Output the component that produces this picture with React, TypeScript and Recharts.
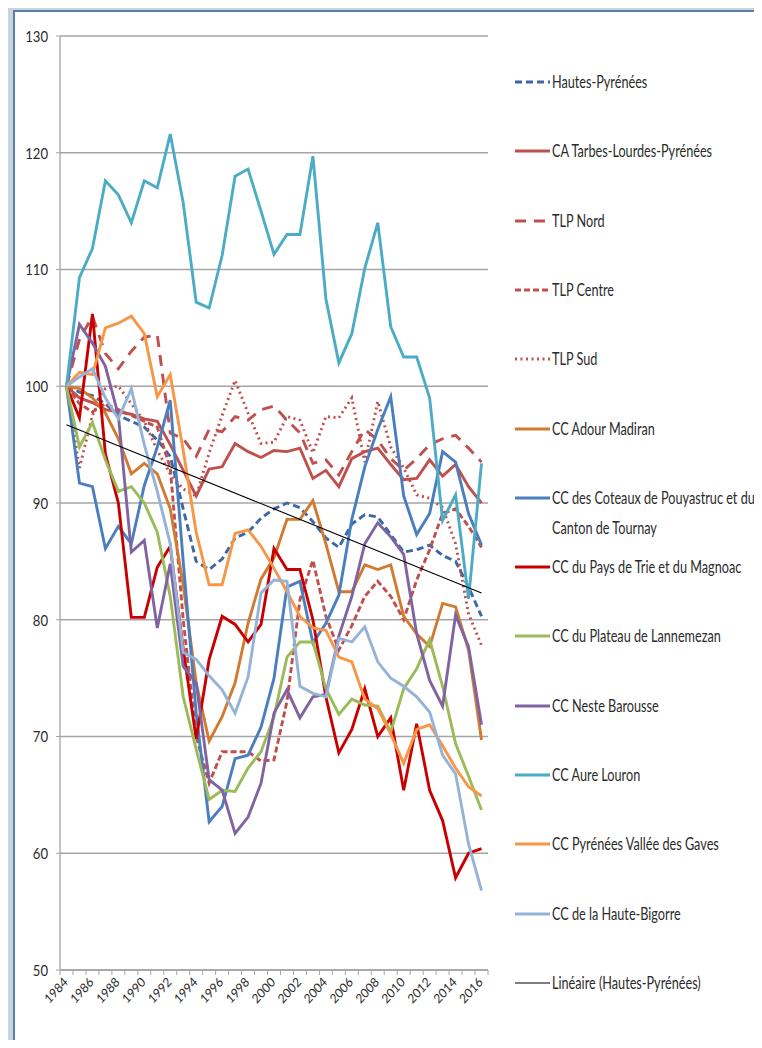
import { CartesianGrid, Line, LineChart, XAxis, YAxis } from 'recharts';

// Indices démographiques base 100 en 1984

const years = [
  1984, 1985, 1986, 1987, 1988, 1989, 1990, 1991, 1992, 1993, 1994, 1995, 1996, 1997, 1998, 1999,
  2000, 2001, 2002, 2003, 2004, 2005, 2006, 2007, 2008, 2009, 2010, 2011, 2012, 2013, 2014, 2015,
  2016,
];

const yTicks = [50, 60, 70, 80, 90, 100, 110, 120, 130];

const hautesPyrenees = [
  100, 99.5, 99.2, 98.5, 97.5, 97.0, 96.5, 95.4, 94.0, 89.5, 85.0, 84.3, 85.2, 87.0, 87.5, 88.7,
  89.5, 90.0, 89.6, 88.4, 87.0, 86.2, 88.2, 89.0, 88.8, 87.3, 85.8, 86.0, 86.4, 85.5, 85.0, 82.8,
  80.3,
];
const caTarbes = [
  100, 99.0, 98.6, 98.0, 97.8, 97.6, 97.2, 97.0, 95.0, 92.8, 90.6, 92.9, 93.1, 95.1, 94.4, 93.9,
  94.5, 94.4, 94.7, 92.1, 92.8, 91.4, 93.8, 94.4, 94.7, 93.3, 92.0, 92.1, 93.7, 92.3, 93.3, 91.4,
  90.0,
];
const tlpNord = [
  100, 104.0, 106.0, 102.8, 101.5, 103.0, 104.2, 104.4, 96.0, 95.5, 94.0, 96.3, 96.1, 97.4, 97.1,
  98.0, 98.3, 97.1, 96.0, 93.4, 93.7, 92.4, 94.4, 96.3, 95.4, 93.8, 92.8, 93.8, 95.0, 95.5, 95.8,
  94.7, 93.5,
];
const tlpCentre = [
  100, 98.5, 97.8, 98.5, 98.0, 97.5, 97.0, 96.5, 93.0, 80.0, 70.0, 66.0, 68.7, 68.7, 68.7, 67.9,
  68.0, 73.0, 81.7, 85.1, 80.3, 77.4, 79.5, 82.0, 83.3, 82.0, 80.0, 83.4, 86.0, 89.1, 89.5, 88.0,
  86.2,
];
const tlpSud = [
  100, 93.0, 97.5, 99.8, 100.0, 98.5, 97.0, 94.5, 92.5, 91.2, 90.6, 94.3, 97.5, 100.5, 97.7, 95.1,
  95.2, 97.4, 97.1, 94.3, 97.4, 97.3, 99.0, 93.5, 98.7, 94.8, 93.0, 90.7, 90.4, 89.6, 86.5, 80.5,
  77.8,
];
const adourMadiran = [
  100, 99.8, 99.0, 97.7, 95.5, 92.5, 93.4, 92.5, 89.5, 83.0, 74.6, 69.6, 71.7, 74.6, 79.7, 83.5,
  85.3, 88.6, 88.6, 90.2, 86.5, 82.4, 82.4, 84.7, 84.3, 84.7, 80.3, 78.8, 77.7, 81.4, 81.1, 77.4,
  69.7,
];
const coteauxPouyastruc = [
  100, 91.7, 91.4, 86.1, 88.0, 86.5, 91.5, 94.8, 98.8, 85.0, 72.0, 62.7, 64.0, 68.1, 68.4, 70.8,
  75.0, 82.8, 83.3, 78.0, 79.7, 82.1, 88.6, 93.1, 96.3, 99.1, 90.6, 87.3, 89.1, 94.4, 93.5, 89.1,
  86.4,
];
const paysDeTrie = [
  100, 97.3, 106.2, 94.2, 90.0, 80.2, 80.2, 84.5, 86.3, 77.5, 69.8, 76.6, 80.3, 79.6, 78.1, 79.6,
  86.1, 84.3, 84.3, 80.0, 73.4, 68.6, 70.6, 74.1, 70.0, 71.6, 65.4, 71.1, 65.4, 62.8, 57.9, 60.0,
  60.4,
];
const plateauLannemezan = [
  100, 94.8, 96.9, 93.7, 91.0, 91.4, 90.0, 87.5, 82.0, 73.4, 68.9, 64.6, 65.4, 65.3, 67.3, 68.7,
  71.7, 76.8, 78.1, 78.1, 74.1, 71.9, 73.2, 72.7, 72.6, 70.4, 74.1, 75.8, 78.3, 74.3, 69.4, 66.6,
  63.7,
];
const nesteBarousse = [
  100, 105.3, 103.7, 101.7, 97.5, 85.8, 86.8, 79.3, 84.8, 76.0, 74.6, 66.3, 65.4, 61.7, 63.1, 66.0,
  72.0, 74.0, 71.6, 73.4, 73.6, 78.6, 82.0, 86.5, 88.3, 87.1, 85.6, 78.8, 74.8, 72.6, 80.4, 77.7,
  71.0,
];
const aureLouron = [
  100, 109.3, 111.8, 117.6, 116.4, 114.0, 117.6, 117.0, 121.6, 115.7, 107.2, 106.7, 111.2, 118.0,
  118.6, 115.0, 111.3, 113.0, 113.0, 119.7, 107.5, 102.0, 104.5, 110.1, 114.0, 105.1, 102.5, 102.5,
  99.0, 88.5, 90.7, 81.8, 93.4,
];
const valleeDesGaves = [
  100, 101.2, 101.0, 105.0, 105.4, 106.0, 104.5, 99.1, 101.0, 94.5, 87.5, 83.0, 83.0, 87.4, 87.7,
  86.3, 84.4, 82.4, 80.3, 79.3, 79.1, 76.8, 76.4, 73.2, 72.4, 70.2, 67.7, 70.6, 71.0, 69.2, 67.3,
  65.7, 64.9,
];
const hauteBigorre = [
  100, 100.8, 101.5, 99.0, 97.2, 99.8, 95.0, 91.0, 86.5, 77.2, 76.6, 75.2, 74.0, 72.0, 75.1, 82.3,
  83.4, 83.3, 74.3, 73.7, 73.4, 78.4, 78.1, 79.4, 76.4, 75.0, 74.3, 73.4, 72.1, 68.4, 66.8, 60.8,
  56.8,
];

// tendance linéaire (Hautes-Pyrénées) : extrémités
const trendYears = [1984, 2016];
const trendValues = [96.7, 82.3];

type Serie = {
  key: string;
  name: string;
  values: number[];
  color: string;
  dash?: string;
  lines?: string[];
};

const series: Serie[] = [
  { key: 'hp', name: 'Hautes-Pyrénées', values: hautesPyrenees, color: '#3b67a6', dash: '7 4' },
  { key: 'tlp', name: 'CA Tarbes-Lourdes-Pyrénées', values: caTarbes, color: '#c0504d' },
  { key: 'nord', name: 'TLP Nord', values: tlpNord, color: '#c0504d', dash: '11 8' },
  { key: 'centre', name: 'TLP Centre', values: tlpCentre, color: '#c0504d', dash: '6 3' },
  { key: 'sud', name: 'TLP Sud', values: tlpSud, color: '#c0504d', dash: '2 3.5' },
  { key: 'adour', name: 'CC Adour Madiran', values: adourMadiran, color: '#d17a30' },
  {
    key: 'coteaux',
    name: 'CC des Coteaux de Pouyastruc et du Canton de Tournay',
    lines: ['CC des Coteaux de Pouyastruc et du', 'Canton de Tournay'],
    values: coteauxPouyastruc,
    color: '#4a7ebf',
  },
  { key: 'trie', name: 'CC du Pays de Trie et du Magnoac', values: paysDeTrie, color: '#c80000' },
  { key: 'plateau', name: 'CC du Plateau de Lannemezan', values: plateauLannemezan, color: '#9bbb59' },
  { key: 'neste', name: 'CC Neste Barousse', values: nesteBarousse, color: '#8064a2' },
  { key: 'aure', name: 'CC Aure Louron', values: aureLouron, color: '#4bacc6' },
  { key: 'gaves', name: 'CC Pyrénées Vallée des Gaves', values: valleeDesGaves, color: '#f79646' },
  { key: 'bigorre', name: 'CC de la Haute-Bigorre', values: hauteBigorre, color: '#95b3d7' },
];

const data = years.map((year, i) => {
  const row: Record<string, number | null> = { year };
  series.forEach((s) => {
    row[s.key] = s.values[i];
  });
  const t = trendYears.indexOf(year);
  row.trend = t >= 0 ? trendValues[t] : null;
  return row;
});

// police étroite façon Calibri : Lato compressée horizontalement
const FONT = 'Lato, "Open Sans", sans-serif';
const SQUEEZE = 0.82;
const LEGEND_SQUEEZE = 0.745;
const AXIS = '#a5a5a5';
const TEXT = '#2b2b2b';
const PLOT_W = 428;
const STEP = PLOT_W / years.length;

function YearTick(props: any) {
  const { x, y, payload } = props;
  const yr = payload.value as number;
  const lx = x + 2;
  const ly = y + 13;
  return (
    <g>
      <line x1={x - STEP / 2} x2={x - STEP / 2} y1={y} y2={y + 5} stroke={AXIS} />
      {yr === years[years.length - 1] ? (
        <line x1={x + STEP / 2} x2={x + STEP / 2} y1={y} y2={y + 5} stroke={AXIS} />
      ) : null}
      {(yr - years[0]) % 2 === 0 ? (
        <text
          transform={`translate(${lx} ${ly}) scale(0.9 1) rotate(-45)`}
          textAnchor="end"
          fontSize={13}
          fontFamily={FONT}
          fill={TEXT}
        >
          {yr}
        </text>
      ) : null}
    </g>
  );
}

function ValueTick(props: any) {
  const { x, y, payload } = props;
  return (
    <text
      transform={`translate(${x} ${y}) scale(${SQUEEZE} 1)`}
      textAnchor="end"
      dy="0.36em"
      fontSize={16}
      fontFamily={FONT}
      fill={TEXT}
    >
      {payload.value}
    </text>
  );
}

function Swatch({ color, dash, width }: { color: string; dash?: string; width: number }) {
  return (
    <svg width={36} height={20} style={{ flex: 'none' }}>
      <line x1={0} x2={35} y1={10} y2={10} stroke={color} strokeWidth={width} strokeDasharray={dash} />
    </svg>
  );
}

const LEGEND_TOP = 82;
const LEGEND_GAP = 69.3;

export default function App() {
  const legendItems = [
    ...series.map((s) => ({
      name: s.name,
      lines: s.lines ?? [s.name],
      swatch: <Swatch color={s.color} dash={s.dash} width={3} />,
    })),
    {
      name: 'Linéaire (Hautes-Pyrénées)',
      lines: ['Linéaire (Hautes-Pyrénées)'],
      swatch: <Swatch color="#000" width={1.2} />,
    },
  ];

  return (
    <div
      style={{
        position: 'relative',
        margin: -8,
        width: 762,
        height: 1048,
        overflow: 'hidden',
        background: '#c9d5de',
      }}
    >
      <div
        style={{
          position: 'absolute',
          left: 13,
          top: 10,
          right: 0,
          bottom: 0,
          background: '#fff',
          borderTop: '2px solid #5b7ea6',
          borderLeft: '2px solid #5b7ea6',
        }}
      />
      <div style={{ position: 'absolute', left: 0, top: 0 }}>
        <LineChart
          width={762}
          height={1048}
          data={data}
          margin={{ top: 36, right: 274, bottom: 18, left: 20 }}
        >
          <CartesianGrid vertical={false} stroke={AXIS} strokeWidth={1.3} />
          <XAxis
            dataKey="year"
            type="number"
            domain={[years[0] - 0.5, years[years.length - 1] + 0.5]}
            ticks={years}
            interval={0}
            tickSize={0}
            tickMargin={0}
            tickLine={false}
            axisLine={{ stroke: AXIS, strokeWidth: 1.3 }}
            tick={YearTick}
            height={60}
          />
          <YAxis
            domain={[50, 130]}
            ticks={yTicks}
            interval={0}
            width={40}
            tickSize={4}
            tickMargin={8}
            axisLine={{ stroke: AXIS, strokeWidth: 1.3 }}
            tickLine={{ stroke: AXIS }}
            tick={ValueTick}
          />
          {series.map((s) => (
            <Line
              key={s.key}
              dataKey={s.key}
              name={s.name}
              type="linear"
              stroke={s.color}
              strokeWidth={2.9}
              strokeDasharray={s.dash}
              dot={false}
              activeDot={false}
              isAnimationActive={false}
            />
          ))}
          <Line
            dataKey="trend"
            name="Linéaire (Hautes-Pyrénées)"
            type="linear"
            stroke="#000"
            strokeWidth={1.1}
            connectNulls
            dot={false}
            activeDot={false}
            isAnimationActive={false}
          />
        </LineChart>
      </div>
      {legendItems.map((item, i) => (
        <div
          key={item.name}
          style={{
            position: 'absolute',
            left: 515,
            top: LEGEND_TOP + i * LEGEND_GAP - 10,
            display: 'flex',
            alignItems: 'flex-start',
            fontFamily: FONT,
            fontSize: 17,
            color: TEXT,
          }}
        >
          {item.swatch}
          <div
            style={{
              marginLeft: 1,
              marginTop: -5,
              lineHeight: '30px',
              whiteSpace: 'nowrap',
              transform: `scaleX(${LEGEND_SQUEEZE})`,
              transformOrigin: '0 0',
            }}
          >
            {item.lines.map((line) => (
              <div key={line}>{line}</div>
            ))}
          </div>
        </div>
      ))}
    </div>
  );
}
